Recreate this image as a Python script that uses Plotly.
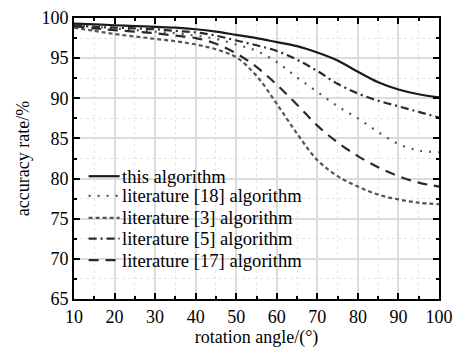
import plotly.graph_objects as go

angles = [10, 15, 20, 25, 30, 35, 40, 45, 50, 55, 60, 65, 70, 75, 80, 85, 90, 95, 100]
this_alg = [99.3, 99.2, 99.1, 99.0, 98.9, 98.8, 98.6, 98.3, 97.9, 97.5, 97.0, 96.5, 95.7, 94.7, 93.3, 92.0, 91.1, 90.5, 90.1]
lit18 = [99.1, 98.9, 98.7, 98.5, 98.3, 98.1, 97.8, 97.4, 96.7, 95.9, 94.5, 92.6, 90.8, 89.0, 87.5, 85.8, 84.3, 83.5, 83.3]
lit3 = [98.8, 98.4, 98.0, 97.7, 97.4, 97.1, 96.7, 96.1, 95.1, 92.8, 89.3, 85.6, 82.3, 80.3, 79.0, 78.0, 77.4, 77.0, 76.8]
lit5 = [99.1, 98.9, 98.8, 98.7, 98.6, 98.4, 98.2, 97.8, 97.2, 96.6, 95.9, 94.8, 93.4, 91.8, 90.6, 89.7, 89.0, 88.3, 87.6]
lit17 = [99.0, 98.7, 98.5, 98.3, 98.1, 97.8, 97.5, 96.8, 95.6, 93.9, 91.7, 89.2, 86.6, 84.5, 82.8, 81.4, 80.3, 79.5, 79.0]

names = ["this algorithm", "literature [18] algorithm", "literature [3] algorithm",
         "literature [5] algorithm", "literature [17] algorithm"]
series = [this_alg, lit18, lit3, lit5, lit17]
styles = [
    dict(color="#1a1a1a", width=2.2, dash="solid"),
    dict(color="#555555", width=2.2, dash="2px,7px"),
    dict(color="#555555", width=2.2, dash="4px,3px"),
    dict(color="#2a2a2a", width=2.2, dash="8px,4px,2px,4px"),
    dict(color="#2a2a2a", width=2.2, dash="10px,7px"),
]

fig = go.Figure()
for n, s, st in zip(names, series, styles):
    fig.add_trace(go.Scatter(x=angles, y=s, mode="lines", name=n, showlegend=False,
                             line=dict(shape="spline", smoothing=1.0, **st)))

font = "Liberation Serif, Times New Roman, serif"

# legend drawn in the lower-left corner (layout, in paper fractions of the plot area)
leg_box = dict(x0=0.0, x1=0.645, y0=0.095, y1=0.47)
leg_line_x = (0.04, 0.125)
leg_text_x = 0.127
leg_row_y = [0.437, 0.367, 0.289, 0.215, 0.138]

fig.add_shape(type="rect", xref="paper", yref="paper", layer="between",
              line=dict(width=0), fillcolor="white", **leg_box)
for n, st, ry in zip(names, styles, leg_row_y):
    fig.add_shape(type="line", xref="paper", yref="paper",
                  x0=leg_line_x[0], x1=leg_line_x[1], y0=ry, y1=ry, line=st)
    fig.add_annotation(xref="paper", yref="paper", x=leg_text_x, y=ry, text=n,
                       showarrow=False, xanchor="left", yanchor="middle",
                       font=dict(family=font, size=18.6, color="black"))

fig.update_layout(
    width=466, height=349,
    margin=dict(l=66, r=35, t=10, b=58),
    paper_bgcolor="white", plot_bgcolor="white",
    font=dict(family=font, size=18, color="black"),
    showlegend=False,
)
fig.update_xaxes(
    range=[10, 100], tickmode="linear", tick0=10, dtick=10,
    showline=True, linecolor="black", linewidth=2, mirror="ticks",
    ticks="inside", ticklen=6, tickwidth=2, tickcolor="black",
    showgrid=True, gridcolor="#dcdcdc", gridwidth=1.5,
    zeroline=False, automargin=False, ticklabeloverflow="allow",
    minor=dict(dtick=5, ticks="inside", ticklen=3, tickwidth=1.5, tickcolor="black",
               showgrid=True, gridcolor="#e6e6e6", griddash="dot", gridwidth=1),
    title=dict(text="rotation angle/(°)", font=dict(size=18), standoff=0),
    tickfont=dict(size=18),
)
fig.update_yaxes(
    range=[65, 100], tickmode="linear", tick0=65, dtick=5,
    showline=True, linecolor="black", linewidth=2, mirror="ticks",
    ticks="inside", ticklen=6, tickwidth=2, tickcolor="black",
    showgrid=True, gridcolor="#dcdcdc", gridwidth=1.5,
    zeroline=False, automargin=False, ticklabeloverflow="allow",
    minor=dict(dtick=2.5, ticks="inside", ticklen=3, tickwidth=1.5, tickcolor="black",
               showgrid=True, gridcolor="#e6e6e6", griddash="dot", gridwidth=1),
    title=dict(text="accuracy rate/%", font=dict(size=18), standoff=7),
    tickfont=dict(size=18),
)
fig.write_html("out.html")
